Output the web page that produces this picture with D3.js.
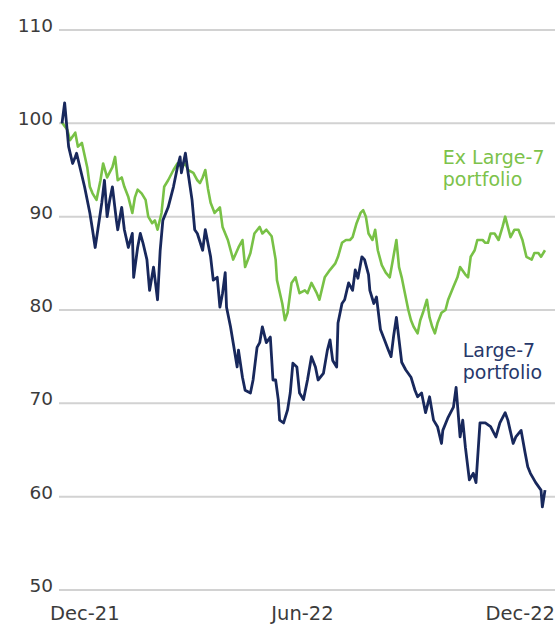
<!DOCTYPE html>
<html>
<head>
<meta charset="utf-8">
<script src="https://cdn.jsdelivr.net/npm/d3@7"></script>
<style>
  html, body { margin: 0; padding: 0; background: #fff; }
  svg { display: block; }
  text { font-family: "DejaVu Sans", sans-serif; }
</style>
</head>
<body>
<div id="chart"></div>
<script>
// Index levels, 31 Dec 2021 = 100. Each point: [days since start, level]
const startDate = new Date(2021, 11, 31);
const endDate = new Date(2022, 11, 30);

const large7 = [
  [0,100.0],[2,102.2],[5,97.5],[8,95.7],[10,96.4],[11,96.8],[14,95.0],[17,93.2],
  [21,90.4],[23,88.6],[25,86.7],[27,88.6],[30,91.5],[32,93.9],[34,90.0],[36,91.8],
  [38,93.2],[41,89.6],[42,88.6],[45,91.0],[47,88.6],[50,86.7],[53,88.2],[54,83.5],
  [57,86.7],[59,88.2],[61,87.2],[64,85.4],[66,82.1],[69,84.6],[72,81.1],[74,86.4],
  [76,89.6],[80,91.0],[84,93.2],[87,95.3],[89,96.4],[90,94.7],[93,96.8],[95,94.7],
  [98,91.8],[100,88.6],[102,88.2],[106,86.4],[108,88.6],[112,85.7],[114,83.2],[117,83.5],
  [119,80.3],[121,81.8],[123,84.0],[124,80.3],[127,78.2],[129,76.5],[132,73.9],[133,75.7],
  [136,72.8],[138,71.4],[142,71.1],[144,72.5],[147,76.0],[149,76.5],[151,78.2],[154,76.5],
  [157,77.1],[159,72.5],[161,72.5],[163,70.4],[164,68.2],[167,67.9],[170,69.3],[172,71.1],
  [174,74.3],[177,73.9],[179,71.1],[182,70.4],[185,72.5],[188,75.0],[191,73.9],[193,72.5],
  [197,73.2],[200,75.7],[202,76.8],[204,74.6],[207,73.9],[208,78.6],[211,80.7],[213,81.1],
  [216,82.9],[219,82.1],[221,84.3],[223,83.4],[226,85.7],[228,85.4],[231,83.8],[232,82.1],
  [235,80.7],[237,81.4],[240,77.9],[243,76.8],[246,75.7],[248,75.0],[250,77.3],[252,79.2],
  [254,76.8],[256,74.4],[259,73.6],[263,72.8],[266,71.4],[268,70.7],[271,71.1],[274,69.0],
  [277,70.7],[280,68.2],[283,67.5],[286,65.7],[287,67.1],[291,68.5],[295,69.6],[297,71.7],
  [300,66.4],[302,68.2],[304,65.3],[307,61.8],[310,62.5],[312,61.5],[315,67.9],[319,67.9],
  [323,67.5],[327,66.4],[330,67.9],[334,69.0],[336,68.2],[340,65.7],[342,66.4],[346,67.1],
  [349,64.7],[351,63.2],[353,62.5],[357,61.5],[361,60.7],[362,58.9],[364,60.7]
];

const exLarge7 = [
  [0,100.1],[4,99.3],[6,98.2],[10,99.0],[12,97.5],[15,97.9],[19,95.3],[21,93.2],
  [23,92.5],[26,91.8],[29,93.9],[31,95.7],[34,94.2],[38,95.3],[40,96.4],[42,93.9],
  [45,94.2],[47,93.2],[50,92.1],[53,90.4],[55,92.1],[57,92.9],[60,92.5],[63,91.8],
  [65,90.0],[68,89.3],[70,89.6],[72,88.6],[75,90.4],[77,93.2],[80,93.9],[84,95.0],
  [87,95.7],[90,95.3],[93,95.7],[95,95.0],[99,94.7],[102,93.9],[104,93.6],[106,94.2],
  [108,95.0],[110,93.0],[112,91.5],[115,90.4],[119,91.0],[121,88.9],[125,87.5],[129,85.4],
  [133,86.7],[136,87.5],[138,84.6],[142,86.1],[145,88.2],[149,88.9],[151,88.2],[154,88.6],
  [158,87.9],[161,85.4],[162,83.2],[166,80.7],[168,78.9],[170,79.7],[173,82.9],[176,83.5],
  [179,81.8],[183,82.1],[185,81.8],[188,82.9],[192,81.8],[194,81.1],[198,83.5],[202,84.3],
  [206,85.0],[208,85.7],[211,87.2],[214,87.5],[217,87.5],[219,87.8],[222,89.3],[225,90.4],
  [227,90.7],[229,90.0],[231,88.2],[234,87.5],[236,88.6],[238,86.4],[241,84.8],[244,84.0],
  [247,83.5],[249,85.1],[252,87.5],[254,84.6],[256,83.5],[258,82.1],[261,80.0],[263,78.9],
  [265,78.2],[268,77.5],[270,78.9],[272,79.7],[275,81.1],[277,79.2],[279,78.2],[281,77.5],
  [283,78.6],[286,79.7],[289,80.0],[291,81.1],[293,81.8],[295,82.5],[298,83.5],[300,84.6],
  [304,83.8],[306,83.5],[308,85.7],[311,86.4],[313,87.5],[317,87.5],[319,87.2],[321,87.2],
  [323,88.2],[326,88.2],[329,87.5],[332,88.9],[334,90.0],[338,87.8],[341,88.6],[344,88.6],
  [347,87.5],[350,85.7],[354,85.4],[356,86.1],[359,86.1],[361,85.7],[364,86.4]
];

const yTicks = [50, 60, 70, 80, 90, 100, 110];
const xTickLabels = ["Dec-21", "Jun-22", "Dec-22"];

const seriesLabels = [
  { lines: ["Ex Large-7", "portfolio"], color: "#7cc24a", day: 287, level: 95.6 },
  { lines: ["Large-7", "portfolio"], color: "#27386a", day: 302, level: 75.0 }
];

const width = 558, height = 625;
const svg = d3.select("#chart").append("svg")
  .attr("width", width).attr("height", height);

const x = d3.scaleTime().domain([startDate, endDate]).range([62, 545]);
const y = d3.scaleLinear().domain([50, 110]).range([590, 30]);

// horizontal gridlines with value labels
const grid = svg.append("g");
grid.selectAll("line").data(yTicks).join("line")
  .attr("x1", 59).attr("x2", 555)
  .attr("y1", d => y(d)).attr("y2", d => y(d))
  .attr("stroke", "#d2d2d2").attr("stroke-width", 2);
grid.selectAll("text").data(yTicks).join("text")
  .attr("x", 53).attr("y", d => y(d) + 2)
  .attr("text-anchor", "end")
  .attr("font-size", 18.5)
  .attr("fill", "#3b3b3b")
  .text(d => d);

// date labels spread across the bottom edge
const xl = d3.scalePoint().domain(xTickLabels).range([50, 555]);
svg.append("g").selectAll("text").data(xTickLabels).join("text")
  .attr("x", d => xl(d))
  .attr("y", 620)
  .attr("text-anchor", (d, i) => i === 0 ? "start" : (i === xTickLabels.length - 1 ? "end" : "middle"))
  .attr("font-size", 19.5)
  .attr("fill", "#3b3b3b")
  .text(d => d);

const line = d3.line()
  .x(d => x(d3.timeDay.offset(startDate, d[0])))
  .y(d => y(d[1]));

svg.append("path").datum(exLarge7)
  .attr("d", line)
  .attr("fill", "none")
  .attr("stroke", "#78c146")
  .attr("stroke-width", 2.6)
  .attr("stroke-linejoin", "round");

svg.append("path").datum(large7)
  .attr("d", line)
  .attr("fill", "none")
  .attr("stroke", "#18285c")
  .attr("stroke-width", 2.8)
  .attr("stroke-linejoin", "round");

// series name annotations
seriesLabels.forEach(s => {
  const t = svg.append("text")
    .attr("x", x(d3.timeDay.offset(startDate, s.day)))
    .attr("y", y(s.level))
    .attr("font-size", 19)
    .attr("fill", s.color);
  s.lines.forEach((ln, i) => {
    t.append("tspan")
      .attr("x", x(d3.timeDay.offset(startDate, s.day)))
      .attr("dy", i === 0 ? 0 : 22)
      .text(ln);
  });
});
</script>
</body>
</html>
